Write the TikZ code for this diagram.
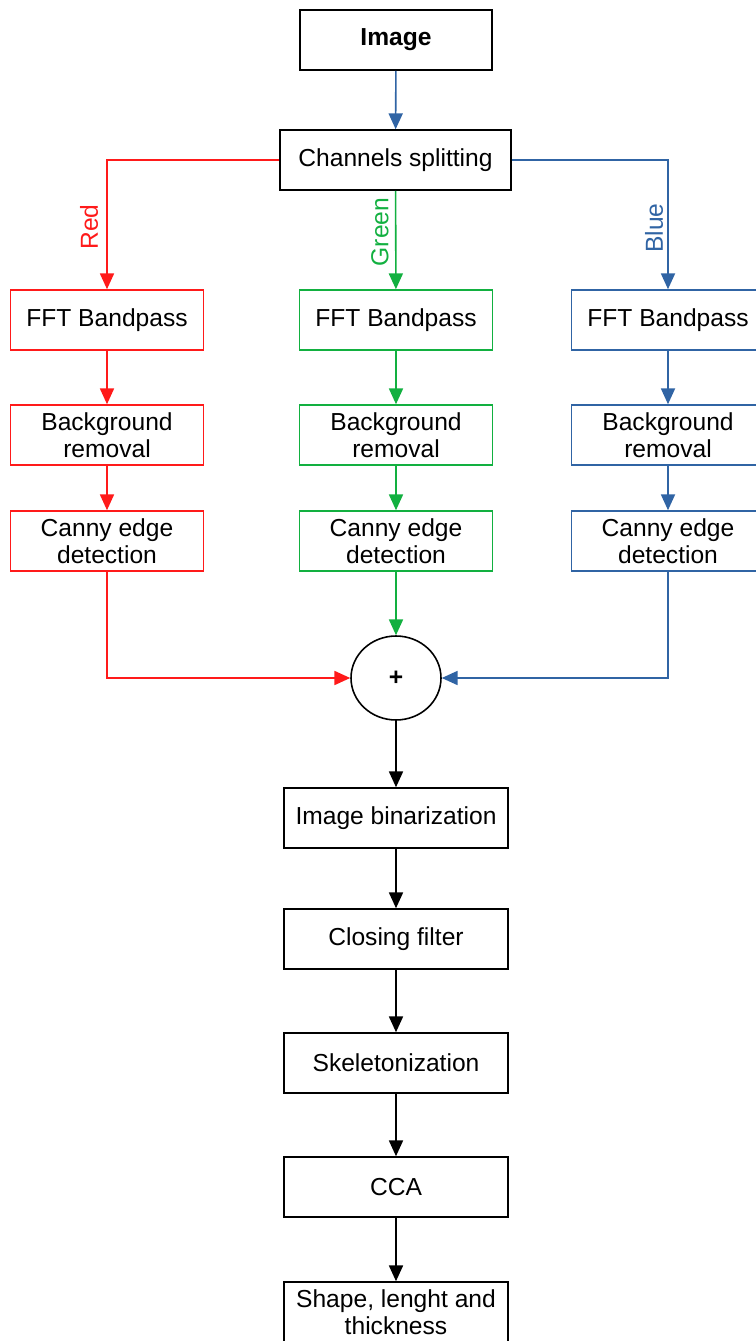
\documentclass[tikz,border=0pt]{standalone}
\usepackage{fontspec}
\setmainfont{Liberation Sans}
\usetikzlibrary{arrows.meta,positioning,shapes.geometric}
\usepackage{xcolor}
\definecolor{chred}{HTML}{FF1A1A}
\definecolor{chgreen}{HTML}{12B040}
\definecolor{chblue}{HTML}{3064A4}

\tikzset{
  block/.style={draw,line width=0.9pt,minimum height=1.2cm,align=center,
    font=\fontsize{14}{15.5}\selectfont,inner sep=2pt},
  wideblock/.style={block,minimum width=4.48cm},
  chanblock/.style={block,minimum width=3.86cm},
  flow/.style={line width=0.9pt,-{Triangle[length=9pt,width=8pt]}},
  chanlabel/.style={rotate=90,font=\fontsize{14}{16}\selectfont,inner sep=0pt}
}

\begin{document}
\begin{tikzpicture}[x=0.02cm,y=-0.02cm]
  \useasboundingbox (0,0) rectangle (755,1341);

  \node[block,minimum width=3.84cm,font=\fontsize{14}{16}\selectfont\bfseries] (image) at (396,40) {Image};
  \node[block,minimum width=4.62cm] (split) at (395.5,160) {Channels splitting};

  % red channel
  \node[chanblock,draw=chred] (fft red) at (107,320) {FFT Bandpass};
  \node[chanblock,draw=chred] (bg red) at (107,435) {Background\\removal};
  \node[chanblock,draw=chred] (canny red) at (107,541) {Canny edge\\detection};

  % green channel
  \node[chanblock,draw=chgreen] (fft green) at (396,320) {FFT Bandpass};
  \node[chanblock,draw=chgreen] (bg green) at (396,435) {Background\\removal};
  \node[chanblock,draw=chgreen] (canny green) at (396,541) {Canny edge\\detection};

  % blue channel
  \node[chanblock,draw=chblue] (fft blue) at (668,320) {FFT Bandpass};
  \node[chanblock,draw=chblue] (bg blue) at (668,435) {Background\\removal};
  \node[chanblock,draw=chblue] (canny blue) at (668,541) {Canny edge\\detection};

  \node[draw,ellipse,line width=0.9pt,minimum width=1.8cm,minimum height=1.68cm,inner sep=0pt,
    font=\fontsize{14}{16}\selectfont\bfseries] (sum) at (396,678) {+};

  \node[wideblock] (binar) at (396,818) {Image binarization};
  \node[wideblock] (closing) at (396,939) {Closing filter};
  \node[wideblock] (skel) at (396,1063) {Skeletonization};
  \node[wideblock] (cca) at (396,1187) {CCA};
  \node[wideblock] (shape) at (396,1312) {Shape, lenght and\\thickness};

  % channel labels
  \node[chanlabel,text=chred] (red label) at (89,227) {Red};
  \node[chanlabel,text=chgreen] (green label) at (380,232) {Green};
  \node[chanlabel,text=chblue] (blue label) at (654,228) {Blue};

  \coordinate (red corner) at (107,160);
  \coordinate (blue corner) at (668,160);
  \coordinate (red merge) at (107,678);
  \coordinate (blue merge) at (668,678);

  \draw[flow,chblue] (image) -- (split);
  \draw[flow,chred] (split.west) -- (red corner) -- (fft red);
  \draw[flow,chgreen] (split) -- (fft green);
  \draw[flow,chblue] (split.east) -- (blue corner) -- (fft blue);

  \draw[flow,chred] (fft red) -- (bg red);
  \draw[flow,chred] (bg red) -- (canny red);
  \draw[flow,chgreen] (fft green) -- (bg green);
  \draw[flow,chgreen] (bg green) -- (canny green);
  \draw[flow,chblue] (fft blue) -- (bg blue);
  \draw[flow,chblue] (bg blue) -- (canny blue);

  \draw[flow,chred] (canny red) -- (red merge) -- (sum.west);
  \draw[flow,chgreen] (canny green) -- (sum);
  \draw[flow,chblue] (canny blue) -- (blue merge) -- (sum.east);

  \draw[flow] (sum) -- (binar);
  \draw[flow] (binar) -- (closing);
  \draw[flow] (closing) -- (skel);
  \draw[flow] (skel) -- (cca);
  \draw[flow] (cca) -- (shape);
\end{tikzpicture}
\end{document}
